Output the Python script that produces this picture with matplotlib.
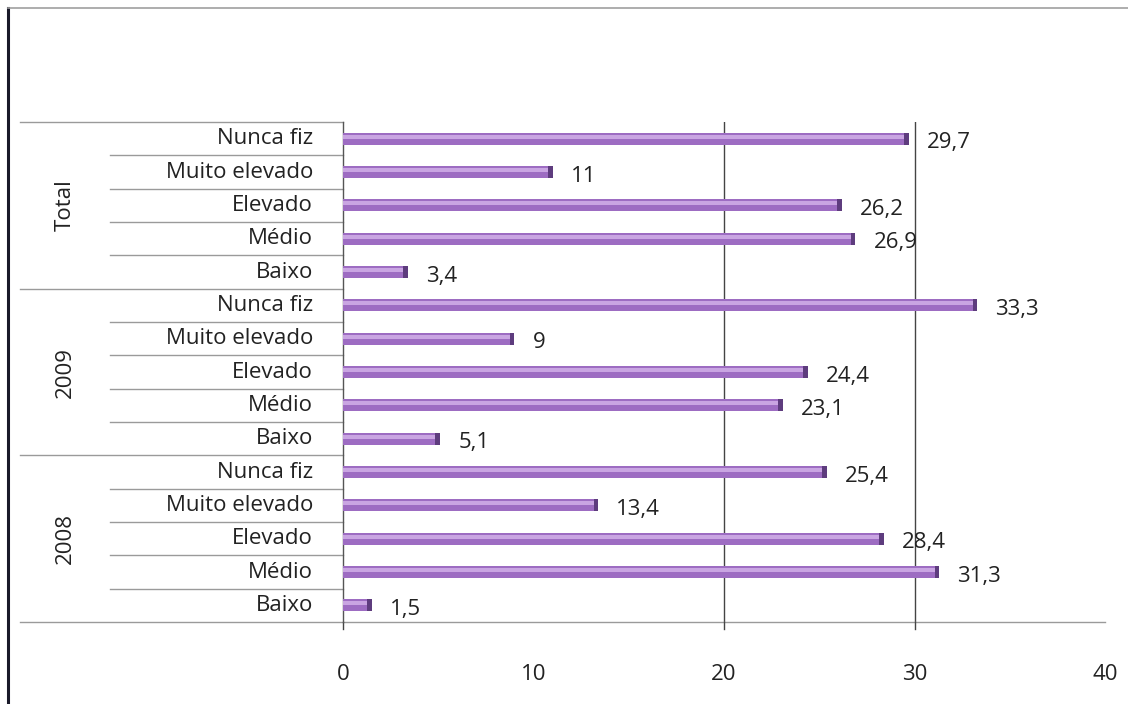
import matplotlib.pyplot as plt
import numpy as np

# Data (bottom to top in the chart)
GROUPS = ["2008", "2009", "Total"]
LEVELS = ["Baixo", "Médio", "Elevado", "Muito elevado", "Nunca fiz"]
VALUES_2008 = [1.5, 31.3, 28.4, 13.4, 25.4]
VALUES_2009 = [5.1, 23.1, 24.4, 9, 33.3]
VALUES_TOTAL = [3.4, 26.9, 26.2, 11, 29.7]
X_TICKS = [0, 10, 20, 30, 40]
GRID_AT = [20, 30]

BAR_COLOR = "#9D6CC2"
BAR_HIGHLIGHT = "#C9A5E2"
BAR_EDGE = "#5E3C7E"
TEXT_COLOR = "#222222"
LINE_COLOR = "#9A9A9A"
FONT_SIZE = 16

plt.rcParams['font.family'] = ['Open Sans', 'DejaVu Sans']


def fmt(v):
    s = f"{v:g}"
    return s.replace(".", ",")


def main():
    values = VALUES_2008 + VALUES_2009 + VALUES_TOTAL
    labels = LEVELS * len(GROUPS)
    y = np.arange(len(values))

    fig = plt.figure(figsize=(11.28, 7.04), dpi=100)
    W, H = 1128, 704
    x0, x1 = 343, 1105
    ytop, ybot = 122, 622
    ax = fig.add_axes([x0 / W, 1 - ybot / H, (x1 - x0) / W, (ybot - ytop) / H])

    # outer frame lines
    fig.add_artist(plt.Line2D([8 / W, 8 / W], [0, 1 - 8 / H], color="#1a1a2a", lw=2.2))
    fig.add_artist(plt.Line2D([8 / W, 1], [1 - 8 / H, 1 - 8 / H], color="#a0a0a0", lw=1.2))

    ax.set_xlim(0, 40)
    ax.set_ylim(-0.5, len(values) - 0.5)

    for s in ["top", "right", "bottom"]:
        ax.spines[s].set_visible(False)
    ax.spines["left"].set_color("#555555")
    ax.spines["left"].set_linewidth(1.0)

    # gridlines (only 20 and 30 visible in the original)
    for g in GRID_AT:
        ax.axvline(g, color="#444444", lw=1.0, zorder=1)

    # bars
    h = 0.36
    ax.barh(y, values, height=h, color=BAR_COLOR, edgecolor="none", zorder=3)
    ax.barh(y + 0.06, values, height=0.12, color=BAR_HIGHLIGHT, edgecolor="none", zorder=4)
    ax.barh(y, [min(v, 0.25) for v in values], left=[v - min(v, 0.25) for v in values],
            height=h, color=BAR_EDGE, edgecolor="none", zorder=5)

    for yi, v in zip(y, values):
        ax.annotate(fmt(v), xy=(v, yi), xytext=(13, -3), textcoords="offset points",
                    ha="left", va="center", fontsize=FONT_SIZE, color=TEXT_COLOR, zorder=6)

    # x axis
    ax.set_xticks(X_TICKS)
    ax.set_xticklabels([str(t) for t in X_TICKS])
    ax.tick_params(axis="x", length=0, pad=30, labelsize=FONT_SIZE, labelcolor=TEXT_COLOR)
    ax.set_yticks([])

    # category labels and separators
    ax_w = x1 - x0
    inner_left = (110 - x0) / ax_w
    outer_left = (20 - x0) / ax_w
    label_x = (313 - x0) / ax_w
    group_x = (65 - x0) / ax_w
    tr = ax.get_yaxis_transform()
    for yi, lab in zip(y, labels):
        ax.text(label_x, yi, lab, transform=tr, ha="right", va="center",
                fontsize=FONT_SIZE, color=TEXT_COLOR)
    n = len(LEVELS)
    for k in range(len(values) + 1):
        yb = k - 0.5
        left = outer_left if k % n == 0 else inner_left
        right = 1.0 if k == 0 else 0
        ax.plot([left, right], [yb, yb], transform=tr, color=LINE_COLOR, lw=1.0,
                clip_on=False, zorder=2)
    for gi, g in enumerate(GROUPS):
        ax.text(group_x, gi * n + (n - 1) / 2, g, transform=tr, rotation=90,
                ha="center", va="center", fontsize=FONT_SIZE, color=TEXT_COLOR)

    # short tick extensions below axis
    for t in [0] + GRID_AT:
        ax.plot([t, t], [-0.5, -0.7], color="#444444", lw=1.0, clip_on=False)

    fig.savefig("out.png", dpi=100, facecolor="white")
    plt.close(fig)


if __name__ == "__main__":
    main()
